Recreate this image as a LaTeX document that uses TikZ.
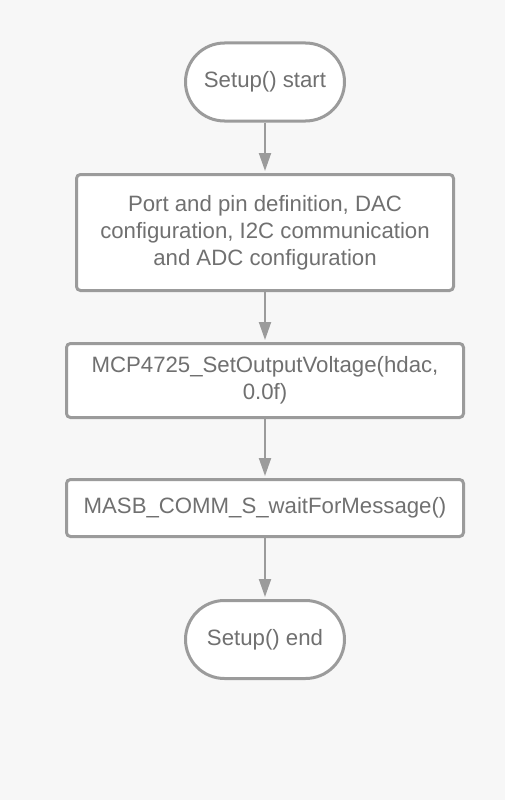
\documentclass[tikz,border=0pt]{standalone}
\usepackage{fontspec}
\setmainfont{Liberation Sans}
\usetikzlibrary{arrows.meta,positioning}
\definecolor{linegray}{HTML}{9B9B9B}
\definecolor{textgray}{HTML}{707070}
\definecolor{bggray}{HTML}{F7F7F7}
\tikzset{
term/.style={rectangle,rounded corners=39pt,draw=linegray,line width=3pt,fill=white,minimum width=159pt,minimum height=78pt,text=textgray,font=\fontsize{22.2}{27}\selectfont},
box/.style={rectangle,rounded corners=4pt,draw=linegray,line width=3pt,fill=white,minimum width=397pt,text=textgray,align=center,font=\fontsize{22.2}{27}\selectfont},
flow/.style={-{Triangle[width=12pt,length=18pt]},draw=linegray,line width=2pt,shorten >=2pt}
}
\begin{document}
\begin{tikzpicture}[x=1pt,y=-1pt]
\fill[bggray] (0,0) rectangle (505,800);
\useasboundingbox (0,0) rectangle (505,800);
\node[term] (start) at(265,82) {Setup() start};
\node[box,minimum width=377pt,minimum height=116pt] (init) at(265,232.5) {Port and pin definition, DAC\\configuration, I2C communication\\and ADC configuration};
\node[box,minimum height=74pt] (dac) at(265,380.5) {MCP4725\_SetOutputVoltage(hdac,\\0.0f)};
\node[box,minimum height=57pt] (wait) at(265,508) {MASB\_COMM\_S\_waitForMessage()};
\node[term] (end) at(265,639.5) {Setup() end};
\draw[flow] (start) -- (init);
\draw[flow] (init) -- (dac);
\draw[flow] (dac) -- (wait);
\draw[flow] (wait) -- (end);
\end{tikzpicture}
\end{document}
